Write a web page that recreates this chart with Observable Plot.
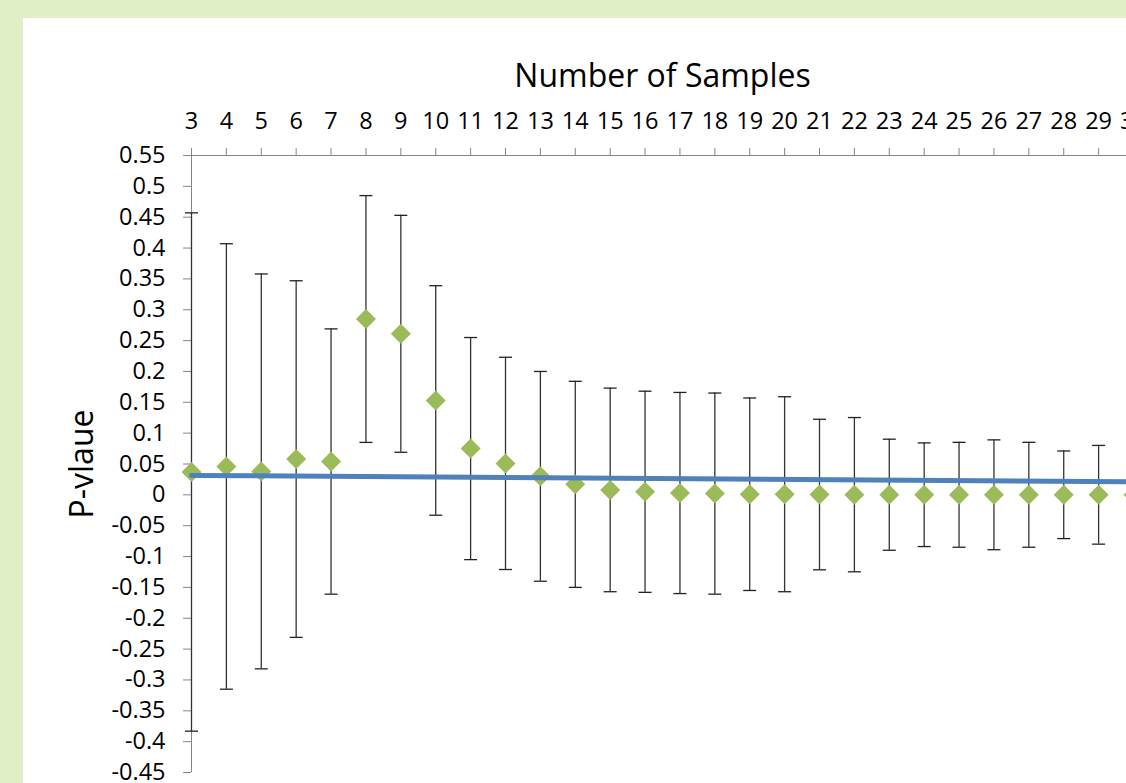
<!DOCTYPE html>
<html>
<head>
<meta charset="utf-8">
<script src="https://cdn.jsdelivr.net/npm/d3@7"></script>
<script src="https://cdn.jsdelivr.net/npm/@observablehq/plot@0.6"></script>
<style>
  html, body { margin: 0; padding: 0; }
  body { width: 1126px; height: 783px; overflow: hidden; position: relative; background: #e1efc7; font-family: 'Open Sans', sans-serif; }
  #panel { position: absolute; left: 23px; top: 18px; width: 1103px; height: 765px; background: #ffffff; overflow: hidden; }
  #chart { position: absolute; left: 0; top: 0; }
  #title { position: absolute; left: 639.5px; top: 41px; transform: translateX(-50%); font-size: 32px; line-height: 32px; white-space: nowrap; color: #000; }
  #ylab { position: absolute; left: 57.5px; top: 446px; transform: translate(-50%, -50%) rotate(-90deg); font-size: 32px; line-height: 32px; white-space: nowrap; color: #000; }
</style>
</head>
<body>
<div id="panel">
  <div id="chart"></div>
  <div id="title">Number of Samples</div>
  <div id="ylab">P-vlaue</div>
</div>
<script>
// Number of samples (x categories)
const samples = [3,4,5,6,7,8,9,10,11,12,13,14,15,16,17,18,19,20,21,22,23,24,25,26,27,28,29,30];
// Mean p-value per sample count
const pMean = [0.037,0.046,0.038,0.058,0.054,0.285,0.261,0.153,0.075,0.051,0.030,0.017,0.008,0.005,0.003,0.002,0.001,0.001,0.0005,0.0003,0.0002,0.0002,0.0001,0.0001,0.0001,0.0001,0.0001,0.0001];
// Error bar half-widths
const pErr = [0.420,0.361,0.320,0.289,0.215,0.200,0.192,0.186,0.180,0.172,0.170,0.167,0.165,0.163,0.163,0.163,0.156,0.158,0.122,0.125,0.090,0.084,0.085,0.089,0.085,0.071,0.080,0.080];
// Trend line end points
const trendX = [3, 30];
const trendY = [0.0315, 0.0213];
// Tick values
const xTicks = [3,4,5,6,7,8,9,10,11,12,13,14,15,16,17,18,19,20,21,22,23,24,25,26,27,28,29,30];
const yTicks = [-0.45,-0.4,-0.35,-0.3,-0.25,-0.2,-0.15,-0.1,-0.05,0,0.05,0.1,0.15,0.2,0.25,0.3,0.35,0.4,0.45,0.5,0.55];

const rows = samples.map((n, i) => ({n, mean: pMean[i], lo: pMean[i] - pErr[i], hi: pMean[i] + pErr[i]}));
const trend = trendX.map((x, i) => ({x, y: trendY[i]}));
const caps = rows.flatMap(d => [{n: d.n, v: d.lo}, {n: d.n, v: d.hi}]);

const diamond = {
  draw(ctx, size) {
    const r = Math.sqrt(size / Math.PI);
    ctx.moveTo(0, -r); ctx.lineTo(r, 0); ctx.lineTo(0, r); ctx.lineTo(-r, 0); ctx.closePath();
  }
};
const hcap = {
  draw(ctx, size) {
    const r = Math.sqrt(size / Math.PI);
    ctx.moveTo(-r, 0); ctx.lineTo(r, 0);
  }
};

const axisGray = "#868686";
const chart = Plot.plot({
  width: 1103,
  height: 765,
  marginLeft: 168,
  marginTop: 137,
  marginRight: 0,
  marginBottom: 11,
  x: {domain: [3, 30], range: [168, 1110]},
  y: {domain: [-0.45, 0.55], range: [754, 137]},
  style: {fontFamily: "'Open Sans', sans-serif", fontSize: "23.5px", background: "#ffffff", color: "#000"},
  marks: [
    Plot.ruleX([3], {y1: -0.45, y2: 0.55, stroke: axisGray, strokeWidth: 1}),
    Plot.ruleY([0.55], {x1: 3, x2: 30, stroke: axisGray, strokeWidth: 1}),
    Plot.axisX({anchor: "top", ticks: xTicks, tickSize: 8, tickPadding: 19, stroke: axisGray, fill: "#000", label: null, tickFormat: d => String(d), fontSize: 23.5}),
    Plot.axisY({anchor: "left", ticks: yTicks, tickSize: 8, tickPadding: 18, stroke: axisGray, fill: "#000", label: null, tickFormat: d => String(Math.round(d * 100) / 100), fontSize: 23.5}),
    Plot.ruleX(rows, {x: "n", y1: "lo", y2: "hi", stroke: "#333333", strokeWidth: 1.3}),
    Plot.dot(caps, {x: "n", y: "v", symbol: hcap, r: 6.5, stroke: "#222222", strokeWidth: 1.3, fill: "none"}),
    Plot.dot(rows, {x: "n", y: "mean", symbol: diamond, r: 10, fill: "#9bbb59", stroke: "none"}),
    Plot.line(trend, {x: "x", y: "y", stroke: "#4f81bd", strokeWidth: 5})
  ]
});
document.getElementById("chart").appendChild(chart);
</script>
</body>
</html>
